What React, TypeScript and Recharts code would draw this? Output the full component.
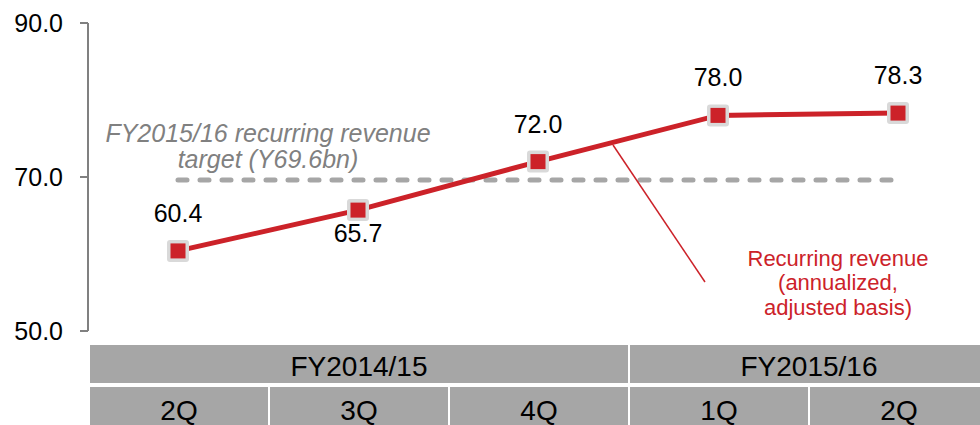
import React from 'react';
import { LineChart, Line, XAxis, YAxis, ReferenceLine } from 'recharts';

const quarters = ['2Q', '3Q', '4Q', '1Q', '2Q'];
const fiscalYears = ['FY2014/15', 'FY2014/15', 'FY2014/15', 'FY2015/16', 'FY2015/16'];
const revenue = [60.4, 65.7, 72.0, 78.0, 78.3];
const labelSides = ['top', 'bottom', 'top', 'top', 'top'];
const target = 69.6;
const yTicks = [50, 70, 90];

const RED = '#cc2229';
const GRAY_CELL = '#a6a6a6';
const FONT = '"Liberation Sans", Arial, sans-serif';

const data = quarters.map((q, i) => ({
    key: `${fiscalYears[i]} ${q}`,
    q,
    fy: fiscalYears[i],
    value: revenue[i],
    side: labelSides[i],
}));

const STEP = 180; // category band width

function TableTick(props: any) {
    const { x, y, payload } = props;
    const i = payload.index;
    const left = x - STEP / 2;
    const groupStart = i === 0 || fiscalYears[i - 1] !== fiscalYears[i];
    let groupLen = 0;
    if (groupStart) {
        while (i + groupLen < fiscalYears.length && fiscalYears[i + groupLen] === fiscalYears[i]) groupLen++;
    }
    return (
        <g>
            {groupStart && (
                <g>
                    <rect x={left + 2} y={y + 14} width={groupLen * STEP - 2} height={38} fill={GRAY_CELL} />
                    <text x={left + (groupLen * STEP) / 2 + 1} y={y + 45} textAnchor="middle"
                        fontSize={28} fontFamily={FONT} fill="#000">{fiscalYears[i]}</text>
                </g>
            )}
            <rect x={left + 2} y={y + 56} width={STEP - 2} height={38} fill={GRAY_CELL} />
            <text x={x + 1} y={y + 89} textAnchor="middle" fontSize={28} fontFamily={FONT} fill="#000">
                {quarters[i]}
            </text>
        </g>
    );
}

function SquareDot(props: any) {
    const { cx, cy, index } = props;
    if (cx == null || cy == null) return null;
    return (
        <g key={`dot-${index}`}>
            <rect x={cx - 11} y={cy - 11} width={22} height={22} rx={3} fill="#d9d9d9" />
            <rect x={cx - 7.5} y={cy - 7.5} width={15} height={15} fill={RED} />
        </g>
    );
}

function ValueLabel(props: any) {
    const { x, y, value, index } = props;
    const side = data[index]?.side ?? 'top';
    return (
        <text key={`lbl-${index}`} x={x} y={side === 'top' ? y - 29 : y + 32} textAnchor="middle"
            fontSize={25} fontFamily={FONT} fill="#000">
            {Number(value).toFixed(1)}
        </text>
    );
}

export default function App() {
    return (
        <div style={{ position: 'absolute', left: 0, top: 0, width: 980, height: 425, overflow: 'hidden', background: '#fff' }}>
            <LineChart width={988} height={425} data={data} margin={{ top: 23, right: 0, bottom: 0, left: 0 }}>
                <YAxis
                    domain={[50, 90]}
                    ticks={yTicks}
                    width={88}
                    tickFormatter={(v: number) => v.toFixed(1)}
                    axisLine={{ stroke: '#808080', strokeWidth: 2 }}
                    tickLine={{ stroke: '#808080', strokeWidth: 2 }}
                    tickSize={8}
                    tickMargin={17}
                    tick={{ fill: '#000', fontSize: 25, fontFamily: FONT }}
                />
                <XAxis
                    dataKey="key"
                    height={94}
                    axisLine={false}
                    tickLine={false}
                    tickSize={0}
                    tickMargin={0}
                    interval={0}
                    padding={{ left: 90, right: 90 }}
                    tick={<TableTick />}
                />
                <ReferenceLine
                    segment={[{ x: data[0].key, y: target }, { x: data[data.length - 1].key, y: target }]}
                    stroke="#a6a6a6"
                    strokeWidth={5}
                    strokeDasharray="9 13"
                    strokeLinecap="round"
                />
                <Line
                    dataKey="value"
                    stroke={RED}
                    strokeWidth={5}
                    dot={SquareDot}
                    activeDot={false}
                    label={ValueLabel}
                    isAnimationActive={false}
                />
            </LineChart>
            <svg width={980} height={425} style={{ position: 'absolute', left: 0, top: 0, pointerEvents: 'none' }}>
                <text x={268} textAnchor="middle" fontSize={25} fontStyle="italic" fontFamily={FONT} fill="#808080">
                    <tspan x={268} y={142}>FY2015/16 recurring revenue</tspan>
                    <tspan x={268} y={168}>target (Y69.6bn)</tspan>
                </text>
                <line x1={613} y1={145} x2={705} y2={282} stroke={RED} strokeWidth={1.5} />
                <text textAnchor="middle" fontSize={22} fontFamily={FONT} fill={RED}>
                    <tspan x={838} y={266}>Recurring revenue</tspan>
                    <tspan x={838} y={290}>(annualized,</tspan>
                    <tspan x={838} y={315}>adjusted basis)</tspan>
                </text>
            </svg>
        </div>
    );
}
